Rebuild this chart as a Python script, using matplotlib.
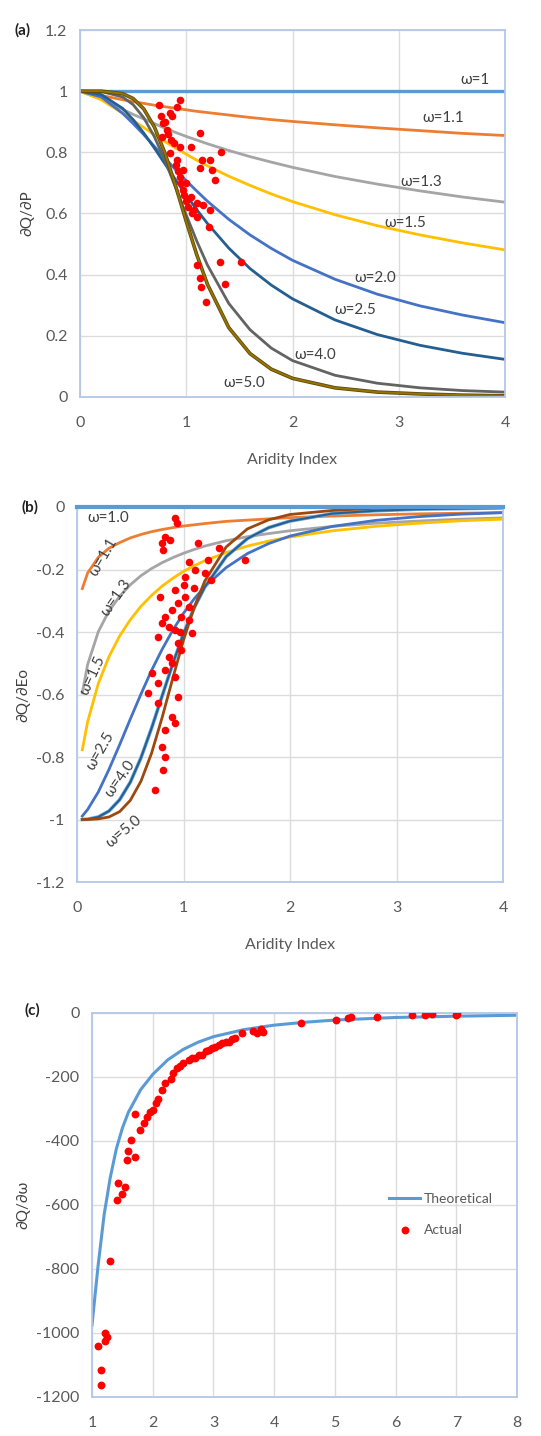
import matplotlib
matplotlib.use("Agg")
import matplotlib.pyplot as plt

plt.rcParams['font.family'] = ['Lato', 'DejaVu Sans']
plt.rcParams['axes.unicode_minus'] = False

# ---------------- Panel (a) data: dQ/dP vs aridity index ----------------
x_a = [0, 0.2, 0.4, 0.5, 0.6, 0.7, 0.8, 0.9, 1.0, 1.1, 1.2, 1.4, 1.6, 1.8, 2.0, 2.4, 2.8, 3.2, 3.6, 4.0]
a_w10 = [1.0] * 20
a_w11 = [1.000, 0.986, 0.972, 0.966, 0.960, 0.954, 0.949, 0.944, 0.939, 0.934, 0.930, 0.922, 0.914, 0.907, 0.901, 0.890, 0.880, 0.871, 0.862, 0.855]
a_w13 = [1.000, 0.974, 0.941, 0.924, 0.909, 0.894, 0.879, 0.865, 0.852, 0.840, 0.828, 0.806, 0.786, 0.768, 0.751, 0.721, 0.696, 0.674, 0.654, 0.637]
a_w15 = [1.000, 0.972, 0.928, 0.904, 0.881, 0.858, 0.835, 0.814, 0.794, 0.774, 0.756, 0.722, 0.692, 0.664, 0.639, 0.596, 0.560, 0.530, 0.504, 0.481]
a_w20 = [1.000, 0.981, 0.928, 0.894, 0.858, 0.819, 0.781, 0.743, 0.707, 0.673, 0.640, 0.581, 0.530, 0.486, 0.447, 0.385, 0.336, 0.298, 0.268, 0.243]
a_w25 = [1.000, 0.989, 0.944, 0.907, 0.863, 0.814, 0.762, 0.710, 0.660, 0.612, 0.567, 0.487, 0.420, 0.366, 0.321, 0.252, 0.204, 0.169, 0.143, 0.123]
a_w40 = [1.000, 0.999, 0.981, 0.956, 0.913, 0.851, 0.773, 0.685, 0.595, 0.509, 0.431, 0.306, 0.220, 0.160, 0.119, 0.071, 0.045, 0.030, 0.021, 0.016]
a_w50 = [1.000, 1.000, 0.992, 0.976, 0.942, 0.883, 0.797, 0.690, 0.574, 0.464, 0.368, 0.227, 0.142, 0.091, 0.061, 0.030, 0.016, 0.010, 0.006, 0.004]

a_act_x = [0.74, 0.76, 0.78, 0.80, 0.82, 0.77, 0.83, 0.85, 0.85, 0.86, 0.87, 0.88, 0.90, 0.91, 0.91,
           0.92, 0.94, 0.94, 0.94, 0.95, 0.97, 0.97, 0.98, 1.00, 1.00, 1.02, 1.04, 1.04, 1.05, 1.07,
           1.10, 1.10, 1.13, 1.13, 1.15, 1.16, 1.21, 1.22, 1.22, 1.24, 1.27, 1.33,
           1.10, 1.13, 1.14, 1.19, 1.32, 1.36, 1.52]
a_act_y = [0.955, 0.920, 0.895, 0.900, 0.873, 0.851, 0.860, 0.928, 0.797, 0.840, 0.920, 0.830, 0.760, 0.949, 0.775,
           0.740, 0.971, 0.818, 0.720, 0.700, 0.742, 0.677, 0.660, 0.699, 0.640, 0.620, 0.818, 0.655, 0.600, 0.612,
           0.633, 0.590, 0.862, 0.748, 0.775, 0.628, 0.557, 0.775, 0.612, 0.742, 0.710, 0.802,
           0.430, 0.390, 0.360, 0.310, 0.440, 0.370, 0.440]

# ---------------- Panel (b) data: dQ/dEo vs aridity index ----------------
x_b = [0.05, 0.1, 0.2, 0.3, 0.4, 0.5, 0.6, 0.7, 0.8, 0.9, 1.0, 1.1, 1.2, 1.4, 1.6, 1.8, 2.0, 2.4, 2.8, 3.2, 3.6, 4.0]
x_b_w10 = [0.0, 4.0]
b_w10 = [0.0, 0.0]
b_w11 = [-0.261, -0.211, -0.161, -0.132, -0.114, -0.099, -0.088, -0.079, -0.072, -0.066, -0.061, -0.057, -0.053, -0.046, -0.042, -0.038, -0.034, -0.029, -0.025, -0.022, -0.020, -0.018]
b_w13 = [-0.595, -0.504, -0.399, -0.333, -0.286, -0.249, -0.220, -0.197, -0.178, -0.162, -0.148, -0.136, -0.125, -0.108, -0.095, -0.085, -0.076, -0.062, -0.052, -0.045, -0.039, -0.035]
b_w15 = [-0.777, -0.687, -0.565, -0.479, -0.413, -0.361, -0.318, -0.283, -0.253, -0.228, -0.206, -0.188, -0.172, -0.146, -0.125, -0.109, -0.096, -0.076, -0.062, -0.052, -0.044, -0.039]
b_w25 = [-0.989, -0.968, -0.912, -0.840, -0.761, -0.679, -0.599, -0.523, -0.455, -0.394, -0.340, -0.294, -0.255, -0.194, -0.149, -0.117, -0.093, -0.062, -0.043, -0.031, -0.023, -0.018]
b_w40 = [-1.000, -0.999, -0.992, -0.973, -0.937, -0.881, -0.803, -0.708, -0.604, -0.501, -0.405, -0.323, -0.256, -0.159, -0.101, -0.066, -0.045, -0.021, -0.012, -0.007, -0.005, -0.003]
b_w50 = [-1.000, -1.000, -0.998, -0.992, -0.975, -0.939, -0.878, -0.788, -0.673, -0.547, -0.426, -0.321, -0.237, -0.128, -0.070, -0.041, -0.024, -0.011, -0.004, -0.003, -0.002, -0.001]

b_act_x = [0.92, 0.94, 0.83, 0.87, 0.80, 0.81, 1.14, 1.33, 1.05, 1.23, 1.58, 1.11, 1.20, 1.01, 1.26,
           0.92, 0.78, 1.01, 0.95, 0.89, 1.05, 0.98, 0.83, 0.80, 0.86, 0.92, 0.76, 1.08, 0.95, 0.98,
           0.86, 0.89, 0.83, 0.70, 0.92, 0.76, 0.67, 0.76, 0.95, 0.89, 0.92, 0.83, 0.80, 0.83, 0.81,
           0.73, 1.00, 1.10, 0.97, 1.05]
b_act_y = [-0.036, -0.052, -0.095, -0.106, -0.116, -0.138, -0.116, -0.132, -0.175, -0.170, -0.170, -0.202, -0.212, -0.223, -0.234,
           -0.266, -0.287, -0.287, -0.308, -0.330, -0.319, -0.351, -0.351, -0.372, -0.383, -0.394, -0.415, -0.404, -0.436, -0.458,
           -0.479, -0.500, -0.522, -0.532, -0.543, -0.564, -0.596, -0.628, -0.607, -0.671, -0.692, -0.714, -0.767, -0.799, -0.842,
           -0.906, -0.250, -0.260, -0.400, -0.360]

# ---------------- Panel (c) data: dQ/domega ----------------
c_x = [1.0, 1.1, 1.2, 1.3, 1.4, 1.5, 1.6, 1.8, 2.0, 2.25, 2.5, 2.75, 3.0, 3.5, 4.0, 4.5, 5.0, 6.0, 7.0, 8.0]
c_theo = [-975, -790, -630, -515, -425, -360, -310, -240, -192, -146, -114, -91, -74, -52, -38, -29, -22, -14, -10, -7]

c_act_x = [1.10, 1.15, 1.15, 1.21, 1.25, 1.22, 1.30, 1.41, 1.50, 1.43, 1.55, 1.57, 1.60, 1.65, 1.71,
           1.71, 1.79, 1.85, 1.90, 1.95, 2.01, 2.05, 2.09, 2.15, 2.20, 2.30, 2.34, 2.40, 2.45, 2.50,
           2.59, 2.65, 2.70, 2.76, 2.81, 2.87, 2.92, 2.97, 3.03, 3.09, 3.14, 3.20, 3.25, 3.30, 3.36,
           3.47, 3.65, 3.72, 3.78, 3.82, 4.45, 5.02, 5.22, 5.27, 5.69, 6.27, 6.49, 6.60, 7.00, 7.02]
c_act_y = [-1040, -1115, -1162, -1000, -1012, -1025, -775, -585, -565, -530, -545, -460, -430, -398, -450,
           -315, -366, -345, -325, -310, -303, -280, -270, -241, -220, -205, -188, -173, -165, -157,
           -147, -140, -142, -130, -131, -120, -116, -108, -105, -100, -95, -92, -90, -82, -79,
           -64, -55, -62, -50, -58, -32, -22, -15, -12, -12, -7, -6, -4, -5, -3]

C_W10 = '#5B9BD5'
C_W11 = '#ED7D31'
C_W13 = '#A5A5A5'
C_W15 = '#FFC000'
C_W20 = '#4472C4'
C_W25 = '#255E91'
C_W40 = '#636363'
C_W50 = '#997300'
C_BR = '#9E480E'
RED = '#FF0000'
TICK = '#595959'
LBL = '#404040'

W, H = 541, 1436
fig = plt.figure(figsize=(W / 100, H / 100), dpi=100)


def px_axes(left, right, top, bottom):
    return fig.add_axes([left / W, 1 - bottom / H, (right - left) / W, (bottom - top) / H])


def style(ax):
    for s in ax.spines.values():
        s.set_color('#B4C7E7')
        s.set_linewidth(1.3)
    ax.grid(True, color='#DCDCDC', lw=1.0)
    ax.set_axisbelow(True)
    ax.tick_params(length=0, labelsize=11.5, labelcolor=TICK)
    ax.tick_params(axis='x', pad=14)
    ax.tick_params(axis='y', pad=9)


def fmt(v):
    s = ('%.1f' % v)
    if s.endswith('.0'):
        s = s[:-2]
    if s == '-0':
        s = '0'
    return s


lab_kw = dict(fontsize=11, color=LBL, ha='center', va='center')

# ---------------- (a) ----------------
ax = px_axes(80, 505, 30, 397)
style(ax)
lw = 2.0
ax.plot(x_a, a_w10, color=C_W10, lw=2.4)
ax.plot(x_a, a_w11, color=C_W11, lw=lw)
ax.plot(x_a, a_w13, color=C_W13, lw=lw)
ax.plot(x_a, a_w15, color=C_W15, lw=lw)
ax.plot(x_a, a_w20, color=C_W20, lw=lw)
ax.plot(x_a, a_w25, color=C_W25, lw=lw)
ax.plot(x_a, a_w40, color=C_W40, lw=lw)
ax.plot(x_a, a_w50, color='#5a4a10', lw=2.6)
ax.plot(x_a, a_w50, color=C_W50, lw=1.4)
ax.scatter(a_act_x, a_act_y, s=30, color=RED, zorder=5, linewidths=0)
ax.set_xlim(0, 4)
ax.set_ylim(0, 1.2)
ax.set_xticks([0, 1, 2, 3, 4])
ax.set_yticks([0, 0.2, 0.4, 0.6, 0.8, 1.0, 1.2])
ax.set_yticklabels([fmt(v) for v in [0, 0.2, 0.4, 0.6, 0.8, 1.0, 1.2]])
ax.set_xlabel('Aridity Index', fontsize=11.5, color=TICK, labelpad=16)
ax.set_ylabel('∂Q/∂P', fontsize=11, color=LBL, labelpad=8)
ax.text(3.72, 1.037, 'ω=1', **lab_kw)
ax.text(3.42, 0.912, 'ω=1.1', **lab_kw)
ax.text(3.21, 0.704, 'ω=1.3', **lab_kw)
ax.text(3.06, 0.568, 'ω=1.5', **lab_kw)
ax.text(2.78, 0.389, 'ω=2.0', **lab_kw)
ax.text(2.59, 0.284, 'ω=2.5', **lab_kw)
ax.text(2.21, 0.137, 'ω=4.0', **lab_kw)
ax.text(1.55, 0.045, 'ω=5.0', **lab_kw)
fig.text(23 / W, 1 - 30 / H, '(a)', fontsize=11, fontweight='bold', ha='center', va='center', color='#202020')

# ---------------- (b) ----------------
ax = px_axes(77, 503, 507, 882)
style(ax)
ax.plot(x_b_w10, b_w10, color=C_W10, lw=3.0, clip_on=False, zorder=4)
ax.plot(x_b, b_w11, color=C_W11, lw=lw)
ax.plot(x_b, b_w13, color=C_W13, lw=lw)
ax.plot(x_b, b_w15, color=C_W15, lw=lw)
ax.plot(x_b, b_w25, color=C_W20, lw=lw)
ax.plot(x_b, b_w40, color='#6FA8DC', lw=2.6)
ax.plot(x_b, b_w40, color=C_W25, lw=1.5)
ax.plot(x_b, b_w50, color=C_BR, lw=lw)
ax.scatter(b_act_x, b_act_y, s=30, color=RED, zorder=5, linewidths=0)
ax.set_xlim(0, 4)
ax.set_ylim(-1.2, 0)
ax.set_xticks([0, 1, 2, 3, 4])
yt = [0, -0.2, -0.4, -0.6, -0.8, -1.0, -1.2]
ax.set_yticks(yt)
ax.set_yticklabels([fmt(v) for v in yt])
ax.set_xlabel('Aridity Index', fontsize=11.5, color=TICK, labelpad=16)
ax.set_ylabel('∂Q/∂Eo', fontsize=11, color=LBL, labelpad=4)
ax.text(0.29, -0.036, 'ω=1.0', **lab_kw)
ax.text(0.25, -0.16, 'ω=1.1', rotation=60, **lab_kw)
ax.text(0.37, -0.29, 'ω=1.3', rotation=55, **lab_kw)
ax.text(0.15, -0.54, 'ω=1.5', rotation=65, **lab_kw)
ax.text(0.22, -0.78, 'ω=2.5', rotation=60, **lab_kw)
ax.text(0.40, -0.87, 'ω=4.0', rotation=55, **lab_kw)
ax.text(0.44, -1.04, 'ω=5.0', rotation=40, **lab_kw)
fig.text(30 / W, 1 - 507 / H, '(b)', fontsize=11, fontweight='bold', ha='center', va='center', color='#202020')

# ---------------- (c) ----------------
ax = px_axes(92, 517, 1013, 1397)
style(ax)
ax.plot(c_x, c_theo, color=C_W10, lw=2.2, label='Theoretical')
ax.scatter(c_act_x, c_act_y, s=32, color=RED, zorder=5, linewidths=0, label='Actual')
ax.set_xlim(1, 8)
ax.set_ylim(-1200, 0)
ax.set_xticks(range(1, 9))
ax.set_yticks([0, -200, -400, -600, -800, -1000, -1200])
ax.set_ylabel('∂Q/∂ω', fontsize=11, color=LBL, labelpad=4)
ax.legend(loc='upper left', bbox_to_anchor=(0.67, 0.565), frameon=False, fontsize=10,
          labelcolor=TICK, handlelength=2.2, labelspacing=1.4, handletextpad=0.3)
fig.text(32 / W, 1 - 1010 / H, '(c)', fontsize=11, fontweight='bold', ha='center', va='center', color='#202020')

fig.savefig('out.png', dpi=100)
